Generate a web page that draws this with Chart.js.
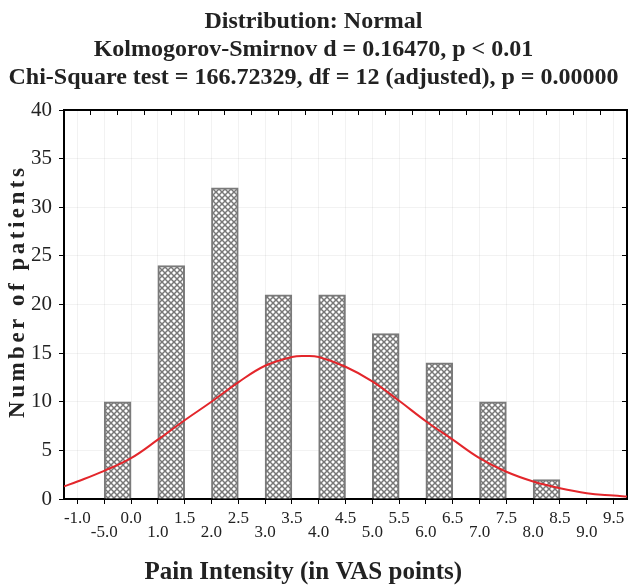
<!DOCTYPE html>
<html>
<head>
<meta charset="utf-8">
<script src="https://cdn.jsdelivr.net/npm/chart.js@4.4.1/dist/chart.umd.min.js"></script>
<style>
  html, body { margin: 0; padding: 0; background: #fff; }
</style>
</head>
<body>
<canvas id="chart" width="633" height="585"></canvas>
<script>
// x axis labels exactly as printed (one per tick, ticks are evenly spaced)
const tickLabels = ['-1.0', '-5.0', '0.0', '1.0', '1.5', '2.0', '2.5', '3.0', '3.5', '4.0', '4.5',
                    '5.0', '5.5', '6.0', '6.5', '7.0', '7.5', '8.0', '8.5', '9.0', '9.5'];

// histogram bins, in tick-index units (each bar spans one tick interval)
const binCenters = [1.5, 3.5, 5.5, 7.5, 9.5, 11.5, 13.5, 15.5, 17.5];
const patientCounts = [10, 24, 32, 21, 21, 17, 14, 10, 2];

// fitted normal curve
const curveX = [-0.5, 0, 1, 2, 3, 4, 5, 6, 7, 8, 8.5, 9, 10, 11, 12, 13, 14, 15, 16, 17, 18, 19, 20, 20.5];
const curveY = [1.3, 1.8, 2.9, 4.2, 6.1, 8.1, 10.0, 12.0, 13.7, 14.6, 14.7, 14.6, 13.6, 12.1, 10.1, 8.0, 6.1, 4.2, 2.8, 1.8, 1.1, 0.6, 0.35, 0.25];

const titleLines = [
    'Distribution: Normal',
    'Kolmogorov-Smirnov d = 0.16470, p < 0.01',
    'Chi-Square test = 166.72329, df = 12 (adjusted), p = 0.00000'
];
const yTitle = 'Number of patients';
const xTitle = 'Pain Intensity (in VAS points)';

const serif = '"Liberation Serif", "Times New Roman", serif';

// grey cross-hatch fill for the bars
function makeHatch() {
    const c = document.createElement('canvas');
    c.width = 6; c.height = 6;
    const g = c.getContext('2d');
    g.fillStyle = '#fff';
    g.fillRect(0, 0, 6, 6);
    g.strokeStyle = '#777';
    g.lineWidth = 1.5;
    g.beginPath();
    g.moveTo(0, 0); g.lineTo(6, 6);
    g.moveTo(6, 0); g.lineTo(0, 6);
    g.stroke();
    return g.createPattern(c, 'repeat');
}

// axis titles (y one needs letter spacing, x one sits left of centre)
const axisTitles = {
    id: 'axisTitles',
    afterDraw(chart) {
        const { ctx, chartArea: a } = chart;
        ctx.save();
        ctx.fillStyle = '#222';
        ctx.textAlign = 'center';
        ctx.textBaseline = 'middle';
        ctx.font = 'bold 25px ' + serif;
        ctx.fillText(xTitle, a.left + (a.right - a.left) * 0.425, a.bottom + 74);
        ctx.translate(18, a.top + (a.bottom - a.top) * 0.466);
        ctx.rotate(-Math.PI / 2);
        ctx.font = 'bold 23px ' + serif;
        ctx.letterSpacing = '3.5px';
        ctx.fillText(yTitle, 0, 0);
        ctx.restore();
    }
};

const gridColor = 'rgba(0,0,0,0.05)';
const fixTicks = s => { s.ticks = tickLabels.map((_, i) => ({ value: i })); };

new Chart(document.getElementById('chart'), {
    type: 'bar',
    data: {
        datasets: [{
            type: 'line',
            data: curveX.map((x, i) => ({ x: x, y: curveY[i] })),
            borderColor: '#e3262b',
            borderWidth: 2,
            pointRadius: 0,
            tension: 0.4,
            order: 0
        }, {
            data: binCenters.map((x, i) => ({ x: x, y: patientCounts[i] })),
            backgroundColor: makeHatch(),
            borderColor: '#7a7a7a',
            borderWidth: 2,
            categoryPercentage: 1,
            barPercentage: 1,
            order: 1
        }]
    },
    options: {
        responsive: false,
        animation: false,
        devicePixelRatio: 1,
        layout: { padding: { left: 0, right: 6, top: 0, bottom: 0 } },
        plugins: {
            legend: { display: false },
            tooltip: { enabled: false },
            title: {
                display: true, text: titleLines, color: '#222',
                font: { family: serif, size: 24, weight: 'bold', lineHeight: 1.16 },
                padding: { top: 8, bottom: 18.5 }
            }
        },
        scales: {
            x: {
                type: 'linear', min: -0.5, max: 20.5, offset: false,
                afterBuildTicks: fixTicks,
                ticks: {
                    autoSkip: false, maxRotation: 0, padding: 8,
                    color: '#222', font: { family: serif, size: 17, lineHeight: 0.8 },
                    callback: (v, i) => i % 2 ? ['', tickLabels[i]] : [tickLabels[i], '']
                },
                grid: { color: gridColor, tickColor: '#000', tickLength: 5, offset: false },
                border: { color: '#000', width: 2 },
                afterFit: s => { s.height = 86; }
            },
            xTop: {
                type: 'linear', position: 'top', min: -0.5, max: 20.5, offset: false,
                afterBuildTicks: fixTicks,
                ticks: { display: false },
                grid: { drawOnChartArea: false, tickLength: -5, tickColor: '#000' },
                border: { color: '#000', width: 2 },
                afterFit: s => { s.height = 0; }
            },
            y: {
                min: 0, max: 40,
                ticks: { stepSize: 5, padding: 7, color: '#222', font: { family: serif, size: 21 } },
                grid: { color: gridColor, tickColor: '#000', tickLength: 5 },
                border: { color: '#000', width: 2 },
                afterFit: s => { s.width = 64; }
            },
            yRight: {
                position: 'right', min: 0, max: 40,
                ticks: { display: false, stepSize: 5 },
                grid: { drawOnChartArea: false, tickLength: -5, tickColor: '#000' },
                border: { color: '#000', width: 2 },
                afterFit: s => { s.width = 0; }
            }
        }
    },
    plugins: [axisTitles]
});
</script>
</body>
</html>
